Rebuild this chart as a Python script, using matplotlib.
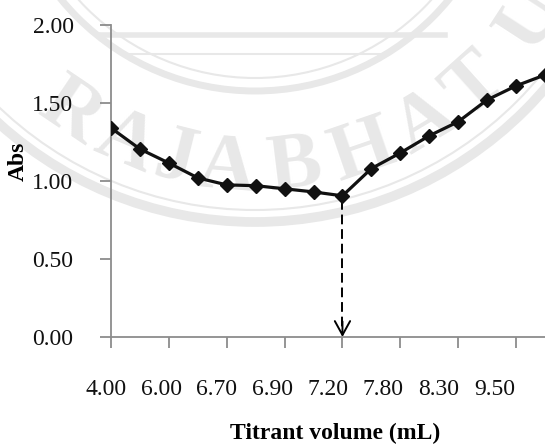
import numpy as np
import matplotlib.pyplot as plt
from matplotlib.patches import Circle
from matplotlib.transforms import ScaledTranslation

plt.rcParams['font.family'] = ['Liberation Serif', 'DejaVu Serif']

# absorbance read at each titrant addition (16 points, every other one labelled)
absorbance = [1.34, 1.205, 1.115, 1.02, 0.975, 0.97, 0.95, 0.93, 0.905,
              1.08, 1.18, 1.29, 1.38, 1.52, 1.61, 1.68]
tick_labels = ['4.00', '6.00', '6.70', '6.90', '7.20', '7.80', '8.30', '9.50']
end_point_idx = 8  # 7.20 mL
y_ticks = [0.0, 0.5, 1.0, 1.5, 2.0]

W, H = 545, 448
WM = '#e8e8e8'  # watermark grey


def draw_watermark(fig):
    # faint university seal behind the chart, in pixel coordinates
    bg = fig.add_axes([0, 0, 1, 1], zorder=0)
    bg.set_xlim(0, W)
    bg.set_ylim(H, 0)
    bg.axis('off')
    cx, cy = 255, -160
    for r, lw in [(382, 7), (370, 1.5), (251, 5), (238, 1.5)]:
        bg.add_patch(Circle((cx, cy), r, fill=False, ec=WM, lw=lw))
    bg.plot([100, 445], [35, 35], color=WM, lw=4)
    bg.plot([130, 385], [54, 54], color=WM, lw=1.5)
    letters = 'RAJABHATU'
    angles = [-34, -23, -14, -5, 7, 19, 31, 42, 57]
    for ch, a in zip(letters, angles):
        t = np.radians(a)
        bg.text(cx + 330 * np.sin(t), cy + 330 * np.cos(t), ch, rotation=a,
                ha='center', va='center', fontsize=58, fontweight='bold',
                color=WM, rotation_mode='anchor')


fig = plt.figure(figsize=(W / 100, H / 100), dpi=100)
draw_watermark(fig)
ax = fig.add_axes([111 / W, (H - 337) / H, (W - 111) / W, (337 - 25) / H], zorder=1)
ax.patch.set_alpha(0)

x = np.arange(len(absorbance))
ax.plot(x, absorbance, color='#111111', lw=2.3, marker='D', ms=7,
        zorder=3, clip_on=True)

# dashed drop line to the end point
y_ep = absorbance[end_point_idx]
ax.plot([end_point_idx, end_point_idx], [y_ep - 0.03, 0.03], color='black',
        lw=1.4, ls=(0, (5, 2.5)), zorder=2)
ax.annotate('', xy=(end_point_idx, 0), xytext=(end_point_idx, 0.1),
            arrowprops=dict(arrowstyle='->,head_length=1.0,head_width=0.55',
                            color='black', lw=1.4, shrinkA=0, shrinkB=0))

ax.set_xlim(0, 15)
ax.set_ylim(0, 2)
ax.set_xticks(x[::2])
ax.set_xticklabels(tick_labels)
ax.set_yticks(y_ticks)
ax.set_yticklabels([f'{v:.2f}' for v in y_ticks])

for s in ['top', 'right']:
    ax.spines[s].set_visible(False)
for s in ['left', 'bottom']:
    ax.spines[s].set_color('#8c8c8c')
    ax.spines[s].set_linewidth(1.3)
ax.tick_params(axis='both', colors='#8c8c8c', width=1.3, length=8,
               labelsize=17, labelcolor='#111111')
ax.tick_params(axis='x', pad=22)
ax.tick_params(axis='y', pad=19)

# the original's labels sit a little tighter than the ticks
for i, lbl in enumerate(ax.get_xticklabels()):
    lbl.set_transform(lbl.get_transform() +
                      ScaledTranslation(-(5 + 2.4 * i) / 100, 0, fig.dpi_scale_trans))

ax.set_xlabel('Titrant volume (mL)', fontsize=17, fontweight='bold')
ax.xaxis.set_label_coords(0.516, -0.275)
ax.set_ylabel('Abs', fontsize=17, fontweight='bold')
ax.yaxis.set_label_coords(-0.19, 0.564)

fig.savefig('out.png', dpi=100)
